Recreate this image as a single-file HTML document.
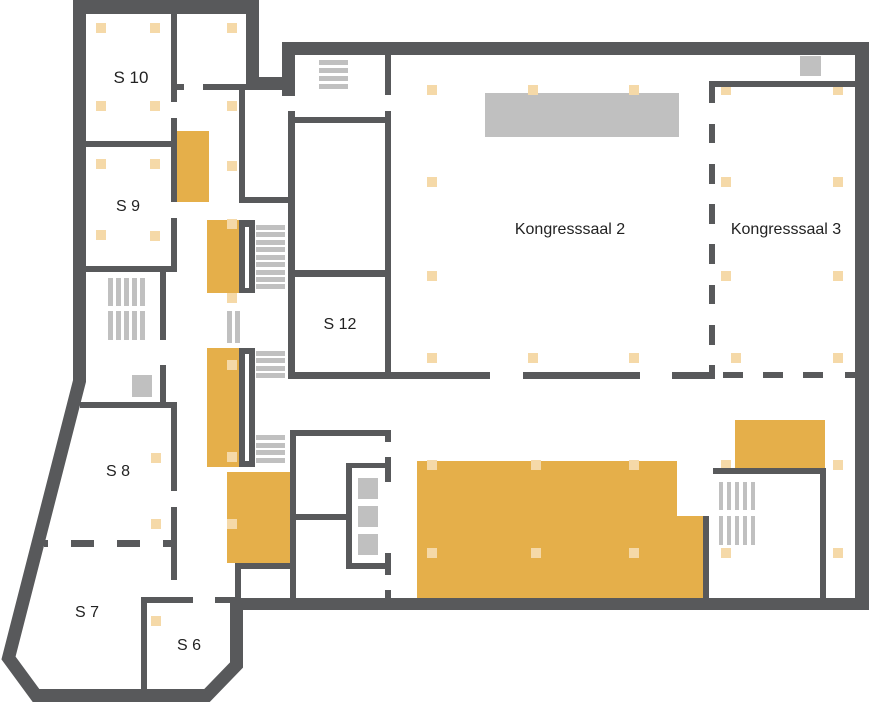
<!DOCTYPE html>
<html><head><meta charset="utf-8"><style>
html,body{margin:0;padding:0;background:#fff;}
svg{display:block;}
text{font-family:"Liberation Sans",sans-serif;font-size:16px;fill:#222;text-anchor:middle;}
</style></head><body>
<svg width="869" height="702" viewBox="0 0 869 702" xmlns="http://www.w3.org/2000/svg">
<g fill="#c0c0c0">
<rect x="485" y="93" width="194" height="44"/>
<rect x="800" y="56" width="21" height="20"/>
<rect x="132" y="375" width="20" height="22"/>
<rect x="358" y="478" width="20" height="21"/><rect x="358" y="506" width="20" height="21"/><rect x="358" y="534" width="20" height="21"/>
<rect x="319" y="60" width="29" height="5"/><rect x="319" y="68" width="29" height="5"/><rect x="319" y="76" width="29" height="5"/><rect x="319" y="84" width="29" height="5"/>
<rect x="256" y="225" width="29" height="5"/><rect x="256" y="232" width="29" height="5"/><rect x="256" y="240" width="29" height="5"/><rect x="256" y="247" width="29" height="5"/><rect x="256" y="255" width="29" height="5"/><rect x="256" y="262" width="29" height="5"/><rect x="256" y="270" width="29" height="5"/><rect x="256" y="277" width="29" height="5"/><rect x="256" y="284" width="29" height="5"/>
<rect x="256" y="351" width="29" height="5"/><rect x="256" y="358" width="29" height="5"/><rect x="256" y="366" width="29" height="5"/><rect x="256" y="373" width="29" height="5"/>
<rect x="256" y="435" width="29" height="5"/><rect x="256" y="443" width="29" height="5"/><rect x="256" y="450" width="29" height="5"/><rect x="256" y="458" width="29" height="5"/>
<rect x="227" y="311" width="5" height="32"/><rect x="235" y="311" width="5" height="32"/>
<rect x="108" y="278" width="5" height="28"/><rect x="116" y="278" width="5" height="28"/><rect x="124" y="278" width="5" height="28"/><rect x="132" y="278" width="5" height="28"/><rect x="140" y="278" width="5" height="28"/>
<rect x="108" y="311" width="5" height="29"/><rect x="116" y="311" width="5" height="29"/><rect x="124" y="311" width="5" height="29"/><rect x="132" y="311" width="5" height="29"/><rect x="140" y="311" width="5" height="29"/>
<rect x="719" y="482" width="4" height="28"/><rect x="727" y="482" width="4" height="28"/><rect x="735" y="482" width="4" height="28"/><rect x="743" y="482" width="4" height="28"/><rect x="751" y="482" width="4" height="28"/>
<rect x="719" y="516" width="4" height="29"/><rect x="727" y="516" width="4" height="29"/><rect x="735" y="516" width="4" height="29"/><rect x="743" y="516" width="4" height="29"/><rect x="751" y="516" width="4" height="29"/>
</g>
<g fill="#e5af4a">
<rect x="177" y="131" width="32" height="71"/>
<rect x="207" y="220" width="32" height="73"/>
<rect x="207" y="348" width="32" height="119"/>
<rect x="227" y="472" width="63" height="91"/>
<polygon points="417,461 677,461 677,516 703,516 703,598 417,598"/>
<rect x="735" y="420" width="90" height="48"/>
</g>
<g fill="#f5d9a8">
<rect x="96" y="23" width="10" height="10"/><rect x="150" y="23" width="10" height="10"/><rect x="227" y="23" width="10" height="10"/>
<rect x="96" y="101" width="10" height="10"/><rect x="150" y="101" width="10" height="10"/><rect x="227" y="101" width="10" height="10"/>
<rect x="96" y="159" width="10" height="10"/><rect x="150" y="159" width="10" height="10"/><rect x="227" y="161" width="10" height="10"/>
<rect x="96" y="230" width="10" height="10"/><rect x="150" y="231" width="10" height="10"/>
<rect x="227" y="219" width="10" height="10"/><rect x="227" y="293" width="10" height="10"/><rect x="227" y="360" width="10" height="10"/><rect x="227" y="452" width="10" height="10"/><rect x="227" y="519" width="10" height="10"/>
<rect x="151" y="453" width="10" height="10"/><rect x="151" y="519" width="10" height="10"/><rect x="151" y="616" width="10" height="10"/>
<rect x="427" y="85" width="10" height="10"/><rect x="528" y="85" width="10" height="10"/><rect x="629" y="85" width="10" height="10"/>
<rect x="427" y="177" width="10" height="10"/><rect x="427" y="271" width="10" height="10"/>
<rect x="427" y="353" width="10" height="10"/><rect x="528" y="353" width="10" height="10"/><rect x="629" y="353" width="10" height="10"/>
<rect x="721" y="85" width="10" height="10"/><rect x="833" y="85" width="10" height="10"/><rect x="721" y="177" width="10" height="10"/><rect x="833" y="177" width="10" height="10"/><rect x="721" y="271" width="10" height="10"/><rect x="833" y="271" width="10" height="10"/><rect x="731" y="353" width="10" height="10"/><rect x="833" y="353" width="10" height="10"/>
<rect x="427" y="460" width="10" height="10"/><rect x="531" y="460" width="10" height="10"/><rect x="629" y="460" width="10" height="10"/>
<rect x="427" y="548" width="10" height="10"/><rect x="531" y="548" width="10" height="10"/><rect x="629" y="548" width="10" height="10"/>
<rect x="721" y="460" width="10" height="10"/><rect x="833" y="460" width="10" height="10"/><rect x="721" y="548" width="10" height="10"/><rect x="833" y="548" width="10" height="10"/>
</g>
<g fill="#58595b">
<rect x="73" y="0" width="186" height="14"/>
<rect x="246" y="0" width="13" height="90"/>
<rect x="246" y="77" width="49" height="13"/>
<rect x="282" y="42" width="587" height="13"/>
<rect x="282" y="42" width="13" height="54"/>
<rect x="855" y="42" width="14" height="568"/>
<rect x="230" y="598" width="639" height="12"/>
<rect x="171" y="14" width="6" height="88"/><rect x="171" y="84" width="13" height="6"/>
<rect x="203" y="84" width="43" height="6"/>
<rect x="86" y="141" width="91" height="6"/>
<rect x="171" y="118" width="6" height="84"/><rect x="171" y="218" width="6" height="54"/>
<rect x="86" y="266" width="91" height="6"/>
<rect x="239" y="90" width="6" height="113"/><rect x="239" y="197" width="56" height="6"/>
<rect x="288" y="111" width="7" height="268"/>
<rect x="160" y="272" width="6" height="68"/><rect x="160" y="365" width="6" height="38"/>
<rect x="80" y="402" width="97" height="6"/>
<rect x="171" y="402" width="6" height="89"/><rect x="171" y="507" width="6" height="73"/>
<rect x="44" y="540" width="4" height="7"/><rect x="71" y="540" width="23" height="7"/><rect x="117" y="540" width="23" height="7"/><rect x="163" y="540" width="9" height="7"/>
<rect x="141" y="597" width="52" height="6"/><rect x="215" y="597" width="21" height="6"/>
<rect x="141" y="597" width="6" height="93"/>
<rect x="239" y="220" width="16" height="73"/><rect x="239" y="348" width="16" height="119"/>
<rect x="385" y="53" width="6" height="42"/><rect x="385" y="111" width="6" height="268"/>
<rect x="295" y="117" width="96" height="6"/>
<rect x="295" y="270" width="96" height="7"/>
<rect x="290" y="372" width="200" height="7"/>
<rect x="523" y="372" width="117" height="7"/>
<rect x="672" y="372" width="43" height="7"/>
<rect x="723" y="372" width="20" height="6"/><rect x="763" y="372" width="20" height="6"/><rect x="803" y="372" width="20" height="6"/><rect x="845" y="372" width="12" height="6"/>
<rect x="709" y="81" width="146" height="6"/>
<rect x="709" y="81" width="6" height="22"/><rect x="709" y="124" width="6" height="19"/><rect x="709" y="164" width="6" height="20"/><rect x="709" y="204" width="6" height="20"/><rect x="709" y="244" width="6" height="20"/><rect x="709" y="285" width="6" height="19"/><rect x="709" y="325" width="6" height="20"/><rect x="709" y="365" width="6" height="14"/>
<rect x="290" y="430" width="6" height="168"/>
<rect x="290" y="430" width="101" height="6"/>
<rect x="385" y="430" width="6" height="12"/><rect x="385" y="457" width="6" height="25"/><rect x="385" y="553" width="6" height="22"/><rect x="385" y="590" width="6" height="8"/>
<rect x="346" y="463" width="6" height="106"/><rect x="346" y="463" width="39" height="5"/><rect x="346" y="563" width="39" height="6"/>
<rect x="290" y="514" width="56" height="6"/>
<rect x="235" y="563" width="55" height="6"/><rect x="235" y="563" width="6" height="35"/>
<rect x="703" y="516" width="6" height="82"/>
<rect x="713" y="468" width="113" height="6"/><rect x="820" y="468" width="6" height="130"/>
</g>
<g fill="#fff"><rect x="245" y="227" width="4" height="61"/><rect x="245" y="354" width="4" height="107"/></g>
<polyline points="79.5,0 79.5,381 8.5,658 36,695.5 207,695.5 236.5,665 236.5,600" fill="none" stroke="#58595b" stroke-width="13" stroke-linejoin="miter"/>
<text x="131" y="83" style="font-size:17px">S 10</text>
<text x="128" y="211">S 9</text>
<text x="340" y="329">S 12</text>
<text x="118" y="476">S 8</text>
<text x="87" y="617">S 7</text>
<text x="189" y="650">S 6</text>
<text x="570" y="234">Kongresssaal 2</text>
<text x="786" y="234">Kongresssaal 3</text>
</svg>
</body></html>
